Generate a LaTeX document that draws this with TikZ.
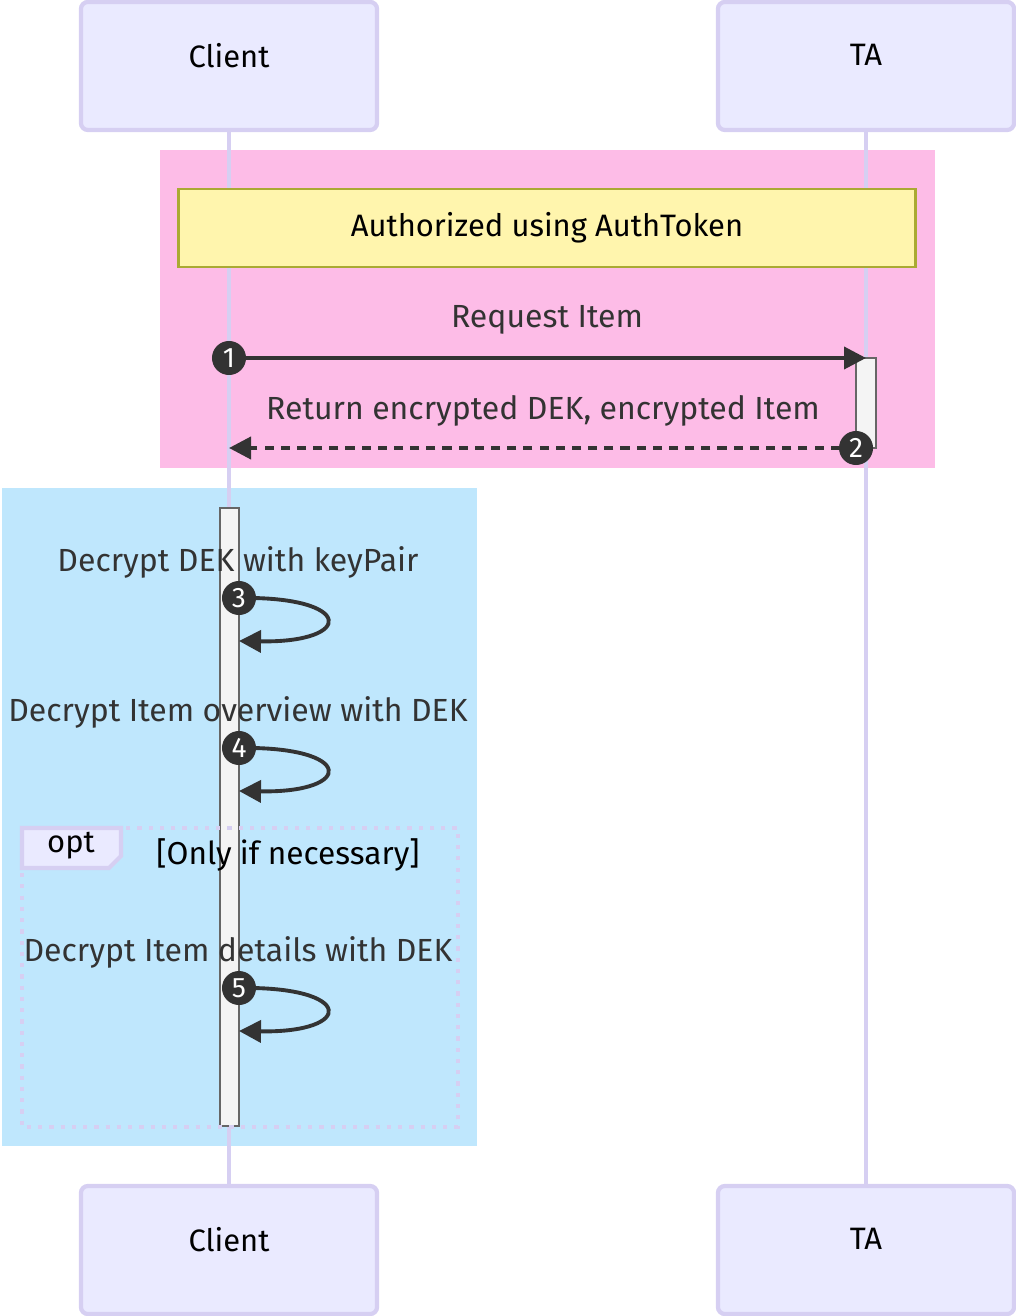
\documentclass[tikz,border=0pt]{standalone}
\usepackage{fontspec}
\setmainfont{Fira Sans}
\usetikzlibrary{arrows.meta}

\definecolor{attorefill}{HTML}{EAEAFF}
\definecolor{attoreline}{HTML}{D6CFF2}
\definecolor{rosa}{HTML}{FDBCE7}
\definecolor{azzurro}{HTML}{BFE7FD}
\definecolor{notafill}{HTML}{FFF5AD}
\definecolor{notaline}{HTML}{AAAA33}
\definecolor{scuro}{HTML}{333333}
\definecolor{attivo}{HTML}{F4F4F4}

\begin{document}
\begin{tikzpicture}[x=0.01cm, y=-0.01cm, >={Triangle[length=0.22cm,width=0.22cm]}]
			\tikzset{attore/.style={draw=attoreline, line width=1.2pt, fill=attorefill, rounded corners=2pt, minimum width=2.96cm, minimum height=1.28cm, inner sep=0pt, text depth=0.22cm, font=\fontsize{8.8}{11}\selectfont},
				num/.style={circle, fill=scuro, text=white, minimum size=0.34cm, inner sep=0pt, font=\fontsize{8}{9}\selectfont},
				testo/.style={text=scuro, inner sep=0pt, font=\fontsize{9.1}{11}\selectfont},
				freccia/.style={->, draw=scuro, line width=1.1pt},
				vita/.style={draw=attoreline, line width=1.2pt},
				barra/.style={draw=black!60, fill=attivo, line width=0.6pt}}
			\useasboundingbox (0,0) rectangle (1015,1316);
			
			% riquadri di sfondo
			\fill[rosa] (160,150) rectangle (935,468);
			\fill[azzurro] (2,488) rectangle (477,1146);
			
			% attori
			\node[attore] (C1) at (229,66) {Client};
			\node[attore] (T1) at (866,66) {TA};
			\node[attore] (C2) at (229,1250) {Client};
			\node[attore] (T2) at (866,1250) {TA};
			
			% linee di vita
			\draw[vita] (C1) -- (C2);
			\draw[vita] (T1) -- (T2);
			
			\node[draw=notaline, fill=notafill, line width=0.8pt, minimum width=7.36cm, minimum height=0.78cm, inner sep=0pt, text depth=0.08cm, font=\fontsize{8.8}{11}\selectfont] (nota) at (547,228) {Authorized using AuthToken};
			
			% attivazioni
			\draw[barra] (856,358) rectangle (876,448);
			\draw[barra] (220,508) rectangle (239,1126);
			
			% blocco opt
			\draw[attoreline, line width=1.2pt, dotted] (22,828) rectangle (458,1127);
			\draw[attoreline, line width=1.2pt, fill=attorefill] (22,828) -- (121,828) -- (121,856) -- (109,868) -- (22,868) -- cycle;
			\node[font=\fontsize{8.8}{11}\selectfont, inner sep=0pt] (opt) at (71,846) {opt};
			\node[font=\fontsize{9}{11}\selectfont, inner sep=0pt] (cond) at (288,855) {[Only if necessary]};
			
			% messaggi
			\coordinate (a1) at (229,358);
			\coordinate (b1) at (866,358);
			\coordinate (a2) at (856,448);
			\coordinate (b2) at (229,448);
			\node[testo] (m1) at (547,320) {Request Item};
			\draw[freccia] (a1) -- (b1);
			\node[num] (n1) at (a1) {1};
			\node[testo] (m2) at (543,411) {Return encrypted DEK, encrypted Item};
			\draw[freccia, dashed, dash pattern=on 2.6pt off 2pt] (a2) -- (b2);
			\node[num] (n2) at (a2) {2};
			
			\foreach \y/\n/\t in {598/3/Decrypt DEK with keyPair, 748/4/Decrypt Item overview with DEK, 988/5/Decrypt Item details with DEK}{
				\node[testo] (m\n) at (238,\y-36) {\t};
				\coordinate (s\n) at (239,\y);
				\coordinate (e\n) at (239,\y+43);
				\draw[freccia] (s\n) .. controls (355,\y-2) and (355,\y+45) .. (e\n);
				\node[num] (n\n) at (s\n) {\n};
			}
		\end{tikzpicture}
\end{document}
